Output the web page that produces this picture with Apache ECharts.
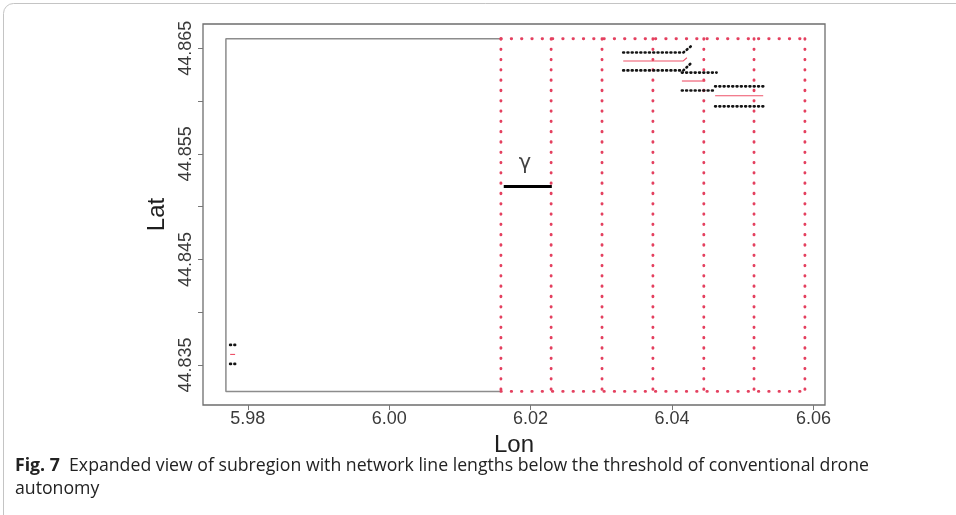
<!DOCTYPE html>
<html>
<head>
<meta charset="utf-8">
<script src="https://cdn.jsdelivr.net/npm/echarts@6/dist/echarts.min.js"></script>
<style>
  html, body { margin: 0; padding: 0; background: #fff; }
  #chart { width: 956px; height: 515px; }
</style>
</head>
<body>
<div id="chart"></div>
<script>
// axis ranges and ticks
const lonRange = [5.97366, 6.06164];
const latRange = [44.83121, 44.86730];
const lonTicks = [5.98, 6.00, 6.02, 6.04, 6.06];
const latTicks = [44.835, 44.840, 44.845, 44.850, 44.855, 44.860, 44.865];
const latLabels = [44.835, 44.845, 44.855, 44.865];

// subregion frame
const boxLonLeft = 5.9769;
const boxLatTop = 44.8659;
const boxLatBottom = 44.8325;

// red dotted network columns
const gridLons = [6.0158, 6.0229, 6.0301, 6.0373, 6.0445, 6.0516, 6.0588];

// gamma segment
const gammaLine = [[6.0162, 44.8519], [6.0230, 44.8519]];
const gammaLabel = [6.0192, 44.8541];

// black dotted boundaries
const blackPaths = [
    [[6.0331, 44.8646], [6.0416, 44.8646], [6.0427, 44.8652]],
    [[6.0331, 44.8629], [6.0416, 44.8629], [6.0427, 44.8636]],
    [[6.0414, 44.8627], [6.0463, 44.8627]],
    [[6.0414, 44.8610], [6.0461, 44.8610]],
    [[6.0461, 44.8614], [6.0529, 44.8614]],
    [[6.0461, 44.8595], [6.0529, 44.8595]],
    [[5.9775, 44.8369], [5.9782, 44.8369]],
    [[5.9775, 44.8351], [5.9782, 44.8351]]
];

// red centre lines
const redPaths = [
    [[6.0331, 44.8638], [6.0416, 44.8638], [6.0421, 44.8641]],
    [[6.0414, 44.8619], [6.0447, 44.8619]],
    [[6.0461, 44.8605], [6.0529, 44.8605]],
    [[5.9775, 44.8360], [5.9782, 44.8360]]
];

const chart = echarts.init(document.getElementById('chart'));

function pathSeries(data, lineStyle, z) {
    return {
        type: 'line', data: data, symbol: 'none', showSymbol: false,
        silent: true, animation: false, clip: false, z: z,
        lineStyle: lineStyle
    };
}

const redDots = {color: '#e4405f', width: 2.9, type: [0.4, 9.9], cap: 'round'};
const blackDots = {color: '#141414', width: 2.7, type: [0.8, 3.5], cap: 'round'};
const redThin = {color: '#ee5269', width: 1.1};

let series = [];
// gray frame of the subregion
series.push(pathSeries([[gridLons[0], boxLatTop], [boxLonLeft, boxLatTop], [boxLonLeft, boxLatBottom], [gridLons[0], boxLatBottom]],
    {color: '#8c8c8c', width: 1.5}, 1));
gridLons.forEach(function (lon) {
    series.push(pathSeries([[lon, boxLatTop], [lon, boxLatBottom]], redDots, 2));
});
series.push(pathSeries([[gridLons[0], boxLatTop], [gridLons[gridLons.length - 1], boxLatTop]], redDots, 2));
series.push(pathSeries([[gridLons[0], boxLatBottom], [gridLons[gridLons.length - 1], boxLatBottom]], redDots, 2));
redPaths.forEach(function (p) {
    series.push(pathSeries(p, redThin, 3));
});
blackPaths.forEach(function (p) {
    series.push(pathSeries(p, blackDots, 4));
});
series.push(pathSeries(gammaLine, {color: '#000', width: 3}, 5));
series.push({
    type: 'scatter', data: [gammaLabel], symbolSize: 0, silent: true, animation: false, z: 5,
    label: {show: true, position: 'inside', formatter: 'γ', fontSize: 21, color: '#111', fontFamily: 'DejaVu Sans'}
});

const labelFont = {fontFamily: 'Liberation Sans', fontSize: 18, color: '#3a3a3a'};

chart.setOption({
    animation: false,
    backgroundColor: '#fff',
    grid: {left: 203, top: 24, width: 622, height: 381, show: true, borderColor: '#6e6e6e', borderWidth: 1.3},
    xAxis: {
        type: 'value', min: lonRange[0], max: lonRange[1],
        name: 'Lon', nameLocation: 'middle', nameGap: 18,
        nameTextStyle: {fontFamily: 'Liberation Sans', fontSize: 24, color: '#1e1e1e'},
        axisLine: {show: false}, splitLine: {show: false},
        axisTick: {show: true, length: 5, customValues: lonTicks, lineStyle: {color: '#777'}},
        axisLabel: Object.assign({customValues: lonTicks, margin: 5, formatter: function (v) { return v.toFixed(2); }}, labelFont)
    },
    yAxis: {
        type: 'value', min: latRange[0], max: latRange[1],
        name: 'Lat', nameLocation: 'middle', nameGap: 25, nameRotate: 90,
        nameTextStyle: {fontFamily: 'Liberation Sans', fontSize: 24, color: '#1e1e1e'},
        axisLine: {show: false}, splitLine: {show: false},
        axisTick: {show: true, length: 5, customValues: latTicks, lineStyle: {color: '#777'}},
        axisLabel: Object.assign({customValues: latLabels, margin: 8, rotate: 90, formatter: function (v) { return v.toFixed(3); }}, labelFont)
    },
    graphic: [
        {type: 'rect', shape: {x: 3.5, y: 3.5, width: 1100, height: 700, r: 10}, style: {fill: 'none', stroke: '#c4c4c4', lineWidth: 1}, silent: true, z: -1},
        {type: 'text', left: 15, top: 457, style: {
            text: '{b|Fig. 7}  Expanded view of subregion with network line lengths below the threshold of conventional drone',
            font: '17.7px "Open Sans"', fill: '#222',
            rich: {b: {fontWeight: 'bold', fontFamily: 'Open Sans', fontSize: 17.7, fill: '#222'}}
        }},
        {type: 'text', left: 15, top: 480, style: {text: 'autonomy', font: '17.7px "Open Sans"', fill: '#222'}}
    ],
    series: series
});
</script>
</body>
</html>
